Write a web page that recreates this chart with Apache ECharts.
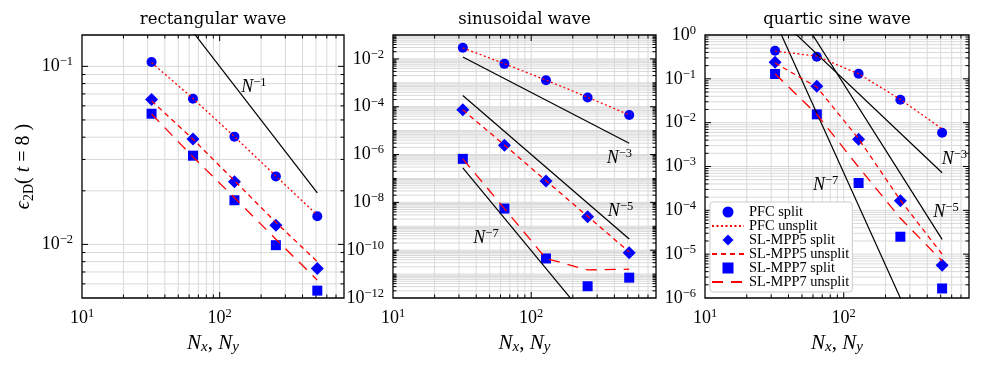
<!DOCTYPE html>
<html>
<head>
<meta charset="utf-8">
<script src="https://cdn.jsdelivr.net/npm/echarts@6/dist/echarts.min.js"></script>
<style>
html, body { margin: 0; padding: 0; background: #fff; }
#main { width: 981px; height: 370px; }
</style>
</head>
<body>
<div id="main"></div>
<script>
// grid sizes N_x = N_y
var N = [32, 64, 128, 256, 512];
var refX = [32, 512];
var xRange = [10, 800];
var xTickExp = [1, 2];

// rectangular wave
var rectY = [0.005, 0.15];
var rectYTickExp = [-1, -2];
var rect_pfc_split = [0.1057, 0.0657, 0.0403, 0.0241, 0.0144];
var rect_pfc_unsplit = [0.105, 0.066, 0.0403, 0.0242, 0.0146];
var rect_mpp5_split = [0.0652, 0.0391, 0.0225, 0.0128, 0.00733];
var rect_mpp5_unsplit = [0.064, 0.039, 0.0228, 0.0133, 0.0080];
var rect_mpp7_split = [0.0542, 0.0315, 0.0177, 0.0099, 0.0055];
var rect_mpp7_unsplit = [0.054, 0.031, 0.0183, 0.0107, 0.0063];
var rect_ref1 = [0.312, 0.0195];
var rectNotes = [{exp: '\u22121', at: [177, 0.0765]}];

// sinusoidal wave
var sinY = [1e-12, 1e-1];
var sinYTickExp = [-2, -4, -6, -8, -10, -12];
var sin_pfc_split = [0.0295, 0.0062, 0.00129, 0.000245, 4.5e-5];
var sin_pfc_unsplit = [0.029, 0.0063, 0.0013, 0.00025, 4.6e-5];
var sin_mpp5_split = [7.5e-5, 2.45e-6, 7.9e-8, 2.5e-9, 7.9e-11];
var sin_mpp5_unsplit = [7.4e-5, 2.5e-6, 8.0e-8, 2.6e-9, 8.5e-11];
var sin_mpp7_split = [6.6e-7, 5.5e-9, 4.5e-11, 3.1e-12, 7.1e-12];
var sin_mpp7_unsplit = [6.6e-7, 5.5e-9, 4.5e-11, 1.5e-11, 1.6e-11];
var sin_ref3 = [0.0121, 2.95e-6];
var sin_ref5 = [2.95e-4, 2.95e-10];
var sin_ref7 = [2.8e-7, 1.05e-15];
var sinNotes = [
    {exp: '\u22123', at: [435, 6.8e-7]},
    {exp: '\u22125', at: [443, 4.2e-9]},
    {exp: '\u22127', at: [47.1, 3.2e-10]}
];

// quartic sine wave
var quarY = [1e-6, 1];
var quarYTickExp = [0, -1, -2, -3, -4, -5, -6];
var quar_pfc_split = [0.438, 0.32, 0.131, 0.0333, 0.0059];
var quar_pfc_unsplit = [0.43, 0.33, 0.13, 0.034, 0.0072];
var quar_mpp5_split = [0.238, 0.0673, 0.0042, 1.65e-4, 5.6e-6];
var quar_mpp5_unsplit = [0.23, 0.065, 0.0043, 1.7e-4, 1.0e-5];
var quar_mpp7_split = [0.129, 0.0155, 4.2e-4, 2.5e-5, 1.65e-6];
var quar_mpp7_unsplit = [0.13, 0.0155, 9.7e-4, 6.6e-5, 7e-6];
var quar_ref3 = [2.95, 7.2e-4];
var quar_ref5 = [22.7, 2.17e-5];
var quar_ref7 = [2.1, 7.8e-9];
var quarNotes = [
    {exp: '\u22123', at: [627, 1.48e-3]},
    {exp: '\u22125', at: [546, 8.9e-5]},
    {exp: '\u22127', at: [74.1, 3.76e-4]}
];

var TXT = 'DejaVu Serif';
var MATH = 'Liberation Serif';
var GRID_C = '#d9d9d9';

function pts(xs, ys) {
    return xs.map(function (x, i) { return [x, ys[i]]; });
}

function expStr(k) {
    return k < 0 ? '\u2212' + (-k) : String(k);
}

function logSteps(r) {
    var out = [];
    var lo = Math.floor(Math.log10(r[0]) + 1e-9), hi = Math.ceil(Math.log10(r[1]) - 1e-9);
    for (var d = lo; d <= hi; d++) {
        for (var m = 1; m <= 9; m++) {
            var v = m * Math.pow(10, d);
            if (v > r[0] * (1 + 1e-9) && v < r[1] * (1 - 1e-9)) out.push({v: v, major: m === 1});
        }
    }
    return out;
}

var tickRich = {
    b: {fontFamily: MATH, fontSize: 18, lineHeight: 22, verticalAlign: 'middle', fill: '#000', color: '#000'},
    s: {fontFamily: MATH, fontSize: 12.5, lineHeight: 12, verticalAlign: 'top', fill: '#000', color: '#000'}
};
var noteRich = {
    n: {fontFamily: MATH, fontStyle: 'italic', fontSize: 18, lineHeight: 22, verticalAlign: 'middle', fill: '#000', color: '#000'},
    s: {fontFamily: MATH, fontSize: 12.5, lineHeight: 12, verticalAlign: 'top', fill: '#000', color: '#000'}
};

// grid lines, ticks on all sides, tick labels, slope notes, frame
function makeDecor(yr, yExp, notes) {
    return function (params, api) {
        var bl = api.coord([xRange[0], yr[0]]);
        var tr = api.coord([xRange[1], yr[1]]);
        var L = bl[0], B = bl[1], R = tr[0], T = tr[1];
        var grid = [], ticks = [], labels = [];
        logSteps(xRange).forEach(function (t) {
            var px = api.coord([t.v, yr[0]])[0];
            var len = t.major ? 6 : 3.5;
            grid.push({type: 'line', shape: {x1: px, y1: T, x2: px, y2: B},
                style: {stroke: GRID_C, lineWidth: 1}});
            ticks.push({type: 'line', shape: {x1: px, y1: B, x2: px, y2: B - len}, style: {stroke: '#000', lineWidth: 1}});
            ticks.push({type: 'line', shape: {x1: px, y1: T, x2: px, y2: T + len}, style: {stroke: '#000', lineWidth: 1}});
        });
        logSteps(yr).forEach(function (t) {
            var py = api.coord([xRange[0], t.v])[1];
            var k = Math.round(Math.log10(t.v));
            var len = (t.major && yExp.indexOf(k) >= 0) ? 6 : 3.5;
            grid.push({type: 'line', shape: {x1: L, y1: py, x2: R, y2: py},
                style: {stroke: GRID_C, lineWidth: 1}});
            ticks.push({type: 'line', shape: {x1: L, y1: py, x2: L + len, y2: py}, style: {stroke: '#000', lineWidth: 1}});
            ticks.push({type: 'line', shape: {x1: R, y1: py, x2: R - len, y2: py}, style: {stroke: '#000', lineWidth: 1}});
        });
        xTickExp.forEach(function (k) {
            var px = api.coord([Math.pow(10, k), yr[0]])[0];
            labels.push({type: 'text', x: px, y: B + 9, style: {
                text: '{b|10}{s|' + expStr(k) + '}', rich: tickRich,
                align: 'center', verticalAlign: 'top', fill: '#000'}});
        });
        yExp.forEach(function (k) {
            var py = api.coord([xRange[0], Math.pow(10, k)])[1];
            labels.push({type: 'text', x: L - 9, y: py, style: {
                text: '{b|10}{s|' + expStr(k) + '}', rich: tickRich,
                align: 'right', verticalAlign: 'middle', fill: '#000'}});
        });
        notes.forEach(function (n) {
            var p = api.coord(n.at);
            labels.push({type: 'text', x: p[0], y: p[1], style: {
                text: '{n|N}{s|' + n.exp + '}', rich: noteRich,
                align: 'center', verticalAlign: 'middle', fill: '#000'}});
        });
        var frame = {type: 'rect', shape: {x: L, y: T, width: R - L, height: B - T},
            style: {fill: 'none', stroke: '#000', lineWidth: 1.3}};
        return {type: 'group', children: grid.concat(ticks, [frame], labels)};
    };
}

var panels = [
    {title: 'rectangular wave', yr: rectY, yExp: rectYTickExp, notes: rectNotes,
        s: [rect_pfc_split, rect_pfc_unsplit, rect_mpp5_split, rect_mpp5_unsplit, rect_mpp7_split, rect_mpp7_unsplit],
        refs: [rect_ref1]},
    {title: 'sinusoidal wave', yr: sinY, yExp: sinYTickExp, notes: sinNotes,
        s: [sin_pfc_split, sin_pfc_unsplit, sin_mpp5_split, sin_mpp5_unsplit, sin_mpp7_split, sin_mpp7_unsplit],
        refs: [sin_ref3, sin_ref5, sin_ref7]},
    {title: 'quartic sine wave', yr: quarY, yExp: quarYTickExp, notes: quarNotes,
        s: [quar_pfc_split, quar_pfc_unsplit, quar_mpp5_split, quar_mpp5_unsplit, quar_mpp7_split, quar_mpp7_unsplit],
        refs: [quar_ref3, quar_ref5, quar_ref7]}
];

var gridPos = [{left: 82, width: 262}, {left: 393, width: 263}, {left: 705, width: 264}];
var names = ['PFC split', 'PFC unsplit', 'SL-MPP5 split', 'SL-MPP5 unsplit', 'SL-MPP7 split', 'SL-MPP7 unsplit'];
var symbols = ['circle', null, 'diamond', null, 'rect', null];
var symSizes = [10, 0, 13, 0, 10, 0];
var dashes = [null, [2, 2.5], null, [5, 4], null, [11, 8]];
// legend icons that keep their aspect inside the wide legend slot
var legendIcons = ['circle', null, 'path://M0,6L6,0L12,6L6,12Z', null, 'path://M0,0H10V10H0Z', null];

var option = {
    backgroundColor: '#fff',
    animation: false,
    title: [],
    grid: [],
    xAxis: [],
    yAxis: [],
    series: [],
    legend: {
        data: names.map(function (n, j) {
            return symbols[j] ? {name: n, icon: legendIcons[j]} : {name: n, itemStyle: {opacity: 0}};
        }),
        orient: 'vertical',
        left: 710, top: 202,
        itemWidth: 32, itemHeight: 11, itemGap: 0,
        padding: [3, 3, 3, 1],
        backgroundColor: '#fff',
        borderColor: '#cccccc', borderWidth: 1, borderRadius: 3,
        textStyle: {fontFamily: MATH, fontSize: 14.4, color: '#000', lineHeight: 11},
        symbolKeepAspect: true,
        selectedMode: false,
        z: 10
    }
};

panels.forEach(function (p, i) {
    option.grid.push({left: gridPos[i].left, top: 35, width: gridPos[i].width, height: 263});
    option.title.push({
        text: p.title, left: gridPos[i].left + gridPos[i].width / 2, top: 11, textAlign: 'center', padding: 0,
        textStyle: {fontFamily: TXT, fontSize: 16.5, fontWeight: 'normal', color: '#000'}
    });
    option.xAxis.push({
        type: 'log', gridIndex: i, min: xRange[0], max: xRange[1],
        axisLine: {show: false}, axisTick: {show: false}, axisLabel: {show: false}, splitLine: {show: false},
        name: '{n|N}{b|x}{c|, }{n|N}{b|y}', nameLocation: 'middle', nameGap: 33,
        nameTextStyle: {rich: {
            n: {fontFamily: MATH, fontStyle: 'italic', fontSize: 21, lineHeight: 24, verticalAlign: 'middle', color: '#000'},
            c: {fontFamily: MATH, fontSize: 21, lineHeight: 24, verticalAlign: 'middle', color: '#000'},
            b: {fontFamily: MATH, fontStyle: 'italic', fontSize: 15, lineHeight: 12, verticalAlign: 'bottom', color: '#000'}
        }}
    });
    var yAxis = {
        type: 'log', gridIndex: i, min: p.yr[0], max: p.yr[1],
        axisLine: {show: false}, axisTick: {show: false}, axisLabel: {show: false}, splitLine: {show: false}
    };
    if (i === 0) {
        yAxis.name = '{e|\u03f5}{b|2D}{c|( }{e|t}{c| = 8 )}';
        yAxis.nameLocation = 'middle';
        yAxis.nameGap = 46;
        yAxis.nameTextStyle = {rich: {
            e: {fontFamily: MATH, fontStyle: 'italic', fontSize: 20, lineHeight: 24, verticalAlign: 'middle', color: '#000'},
            c: {fontFamily: MATH, fontSize: 20, lineHeight: 24, verticalAlign: 'middle', color: '#000'},
            b: {fontFamily: MATH, fontSize: 14, lineHeight: 12, verticalAlign: 'bottom', color: '#000'}
        }};
    }
    option.yAxis.push(yAxis);

    option.series.push({
        type: 'custom', name: 'decor' + i, xAxisIndex: i, yAxisIndex: i, silent: true, z: 1,
        renderItem: makeDecor(p.yr, p.yExp, p.notes),
        data: [[xRange[0], p.yr[0]]]
    });
    p.refs.forEach(function (r) {
        option.series.push({
            type: 'line', xAxisIndex: i, yAxisIndex: i, symbol: 'none', silent: true, z: 4,
            lineStyle: {color: '#000', width: 1.2}, data: pts(refX, r)
        });
    });
    p.s.forEach(function (vals, j) {
        if (symbols[j]) {
            option.series.push({
                type: 'scatter', name: names[j], xAxisIndex: i, yAxisIndex: i, z: 3,
                symbol: symbols[j], symbolSize: symSizes[j],
                itemStyle: {color: '#0000ff', opacity: 1}, data: pts(N, vals)
            });
        } else {
            option.series.push({
                type: 'line', name: names[j], xAxisIndex: i, yAxisIndex: i, z: 5,
                symbol: 'none', itemStyle: {color: '#ff0000'},
                lineStyle: {color: '#ff0000', width: 1.3, type: dashes[j]}, data: pts(N, vals)
            });
        }
    });
});

var chart = echarts.init(document.getElementById('main'));
chart.setOption(option);
</script>
</body>
</html>
